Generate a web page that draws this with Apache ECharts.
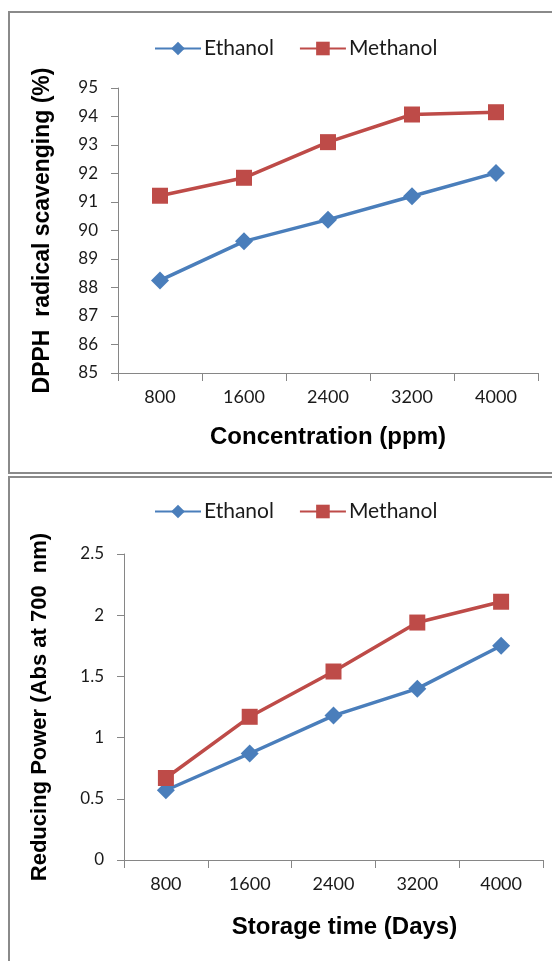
<!DOCTYPE html>
<html>
<head>
<meta charset="utf-8">
<script src="https://cdn.jsdelivr.net/npm/echarts@6/dist/echarts.min.js"></script>
<style>
html,body{margin:0;padding:0;background:#fff;}
#c{width:552px;height:961px;}
</style>
</head>
<body>
<div id="c"></div>
<script>
var categories = ['800', '1600', '2400', '3200', '4000'];
var seriesNames = ['Ethanol', 'Methanol'];
var dpphEthanol = [88.25, 89.62, 90.38, 91.2, 92.02];
var dpphMethanol = [91.22, 91.85, 93.1, 94.07, 94.15];
var rpEthanol = [0.57, 0.87, 1.18, 1.40, 1.75];
var rpMethanol = [0.67, 1.17, 1.54, 1.94, 2.11];

var blue = '#4A7EBB';
var red = '#BE4B48';
var axisGray = '#868686';
var tickFont = 'Lato, "Liberation Sans", sans-serif';
var titleFont = '"Liberation Sans", Arial, sans-serif';

var chart = echarts.init(document.getElementById('c'), null, {renderer: 'canvas'});

function xAxis(gridIndex, name, pad, gap, fs) {
  return {
    type: 'category', gridIndex: gridIndex, data: categories, boundaryGap: true,
    axisLine: {lineStyle: {color: axisGray, width: 1}},
    axisTick: {show: true, length: 8, lineStyle: {color: axisGray}},
    axisLabel: {color: '#1a1a1a', fontSize: 18, fontFamily: tickFont, margin: 15},
    name: name, nameLocation: 'middle', nameGap: gap,
    nameTextStyle: {color: '#000', fontSize: fs, fontWeight: 'bold', fontFamily: titleFont, padding: pad}
  };
}
function yAxis(gridIndex, min, max, interval, name, gap, fs) {
  return {
    type: 'value', gridIndex: gridIndex, min: min, max: max, interval: interval,
    axisLine: {show: true, lineStyle: {color: axisGray, width: 1}},
    axisTick: {show: true, length: 7, lineStyle: {color: axisGray}},
    splitLine: {show: false},
    axisLabel: {color: '#1a1a1a', fontSize: 17, fontFamily: tickFont, margin: 20},
    name: name, nameLocation: 'middle', nameRotate: 90, nameGap: gap,
    nameTextStyle: {color: '#000', fontSize: fs, fontWeight: 'bold', fontFamily: titleFont}
  };
}
function lineSeries(name, data, idx, color, symbol, size) {
  return {
    type: 'line', name: name, data: data, xAxisIndex: idx, yAxisIndex: idx,
    symbol: symbol, symbolSize: size, showAllSymbol: true,
    lineStyle: {color: color, width: 3.5},
    itemStyle: {color: color},
    emphasis: {disabled: true}, animation: false
  };
}

chart.setOption({
  backgroundColor: '#fff',
  animation: false,
  graphic: [
    {type: 'rect', shape: {x: 9, y: 12, width: 600, height: 461}, style: {fill: 'none', stroke: '#8a8a8a', lineWidth: 2}, z: -1},
    {type: 'rect', shape: {x: 9, y: 477, width: 600, height: 520}, style: {fill: 'none', stroke: '#8a8a8a', lineWidth: 2}, z: -1}
  ],
  legend: [
    {left: 149, top: 33, itemWidth: 46, itemHeight: 17, itemGap: 25, data: seriesNames,
     textStyle: {fontSize: 21, fontFamily: tickFont, color: '#1a1a1a', padding: [0,0,0,-2]}},
    {left: 149, top: 496, itemWidth: 46, itemHeight: 17, itemGap: 25, data: seriesNames,
     textStyle: {fontSize: 21, fontFamily: tickFont, color: '#1a1a1a', padding: [0,0,0,-2]}}
  ],
  grid: [
    {left: 118, top: 88, width: 420, height: 285},
    {left: 124, top: 554, width: 419, height: 306}
  ],
  xAxis: [
    xAxis(0, 'Concentration (ppm)', [0, 0, 0, 0], 52, 24),
    xAxis(1, 'Storage time (Days)', [0, 0, 0, 22], 55, 24)
  ],
  yAxis: [
    yAxis(0, 85, 95, 1, 'DPPH  radical scavenging (%)', 64, 23),
    yAxis(1, 0, 2.5, 0.5, 'Reducing Power (Abs at 700  nm)', 73, 22)
  ],
  series: [
    lineSeries(seriesNames[0], dpphEthanol, 0, blue, 'diamond', 18),
    lineSeries(seriesNames[1], dpphMethanol, 0, red, 'rect', 16),
    lineSeries(seriesNames[0], rpEthanol, 1, blue, 'diamond', 18),
    lineSeries(seriesNames[1], rpMethanol, 1, red, 'rect', 16)
  ]
});
</script>
</body>
</html>
